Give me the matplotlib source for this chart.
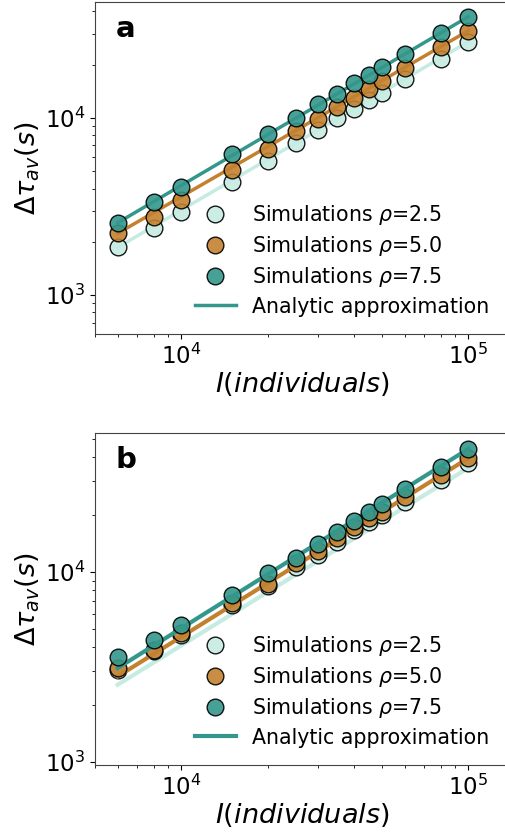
import numpy as np
import matplotlib
matplotlib.use("Agg")
import matplotlib.pyplot as plt

# tamanho da população
I_vals = [6000, 8000, 10000, 15000, 20000, 25000, 30000, 35000,
          40000, 45000, 50000, 60000, 80000, 100000]

# painel a - simulações
sim_a_25 = [1860, 2400, 2955, 4365, 5715, 7195, 8555, 9960,
            11200, 12640, 13790, 16540, 21460, 26980]
sim_a_50 = [2232, 2748, 3441, 5083, 6680, 8445, 9872, 11490,
            12920, 14520, 16180, 19100, 25290, 31120]
sim_a_75 = [2562, 3340, 4093, 6237, 8090, 9960, 11950, 13660,
            15700, 17500, 19330, 22990, 30340, 37330]

# painel b - simulações
sim_b_25 = [3055, 3811, 4667, 6707, 8440, 10660, 12280, 14430,
            16620, 18380, 19930, 23400, 30430, 37240]
sim_b_50 = [3119, 3890, 4763, 6846, 8650, 11110, 12790, 15030,
            17300, 19150, 20750, 24870, 32360, 39580]
sim_b_75 = [3546, 4355, 5266, 7508, 9845, 11800, 14030, 16280,
            18540, 20750, 22760, 27200, 35760, 44300]

# aproximação analítica (extremos)
I_line = [6000, 100000]
ana_a_25 = [1860, 26980]
ana_a_50 = [2232, 31120]
ana_a_75 = [2562, 37330]
ana_b_25 = [2547, 35200]
ana_b_50 = [2820, 39600]
ana_b_75 = [3119, 44300]

rhos = ["2.5", "5.0", "7.5"]
colors = ["#c6ebe2", "#c3812f", "#34978b"]

fig = plt.figure(figsize=(5.05, 8.33), dpi=100)
ax_a = fig.add_axes([0.188, 0.599, 0.8225, 0.3986])
ax_b = fig.add_axes([0.188, 0.0816, 0.8225, 0.3986])


def draw(ax, sims, anas, lw, ylim, letter):
    for k in range(3):
        lab = "Analytic approximation" if k == 2 else None
        ax.plot(I_line, anas[k], color=colors[k], lw=lw, label=lab, zorder=2 + 2 * k)
        ax.plot(I_vals, sims[k], 'o', color=colors[k], markersize=12,
                markeredgecolor='black', markeredgewidth=1.0, alpha=0.9,
                label="Simulations $\\rho$=" + rhos[k], zorder=3 + 2 * k)
    ax.set_xscale('log')
    ax.set_yscale('log')
    ax.set_xlim(5000, 1.4e5)
    ax.set_ylim(*ylim)
    ax.tick_params(labelsize=16.5)
    ax.set_xlabel("$I(individuals)$", fontsize=19.5, labelpad=1)
    ax.set_ylabel("$\\Delta\\tau_{av}(s)$", fontsize=19.5, labelpad=2)
    ax.text(0.05, 0.96, letter, transform=ax.transAxes, fontsize=21,
            fontweight='bold', va='top')
    h, l = ax.get_legend_handles_labels()
    order = [0, 1, 3, 2]
    ax.legend([h[i] for i in order], [l[i] for i in order], loc='lower right',
              frameon=False, fontsize=14.8, bbox_to_anchor=(0.995, -0.003),
              labelspacing=0.35)
    for s in ax.spines.values():
        s.set_color('#444444')


draw(ax_a, [sim_a_25, sim_a_50, sim_a_75], [ana_a_25, ana_a_50, ana_a_75],
     2.5, (603, 45200), "a")
draw(ax_b, [sim_b_25, sim_b_50, sim_b_75], [ana_b_25, ana_b_50, ana_b_75],
     3.0, (964, 53700), "b")

fig.savefig("out.png", dpi=100)
